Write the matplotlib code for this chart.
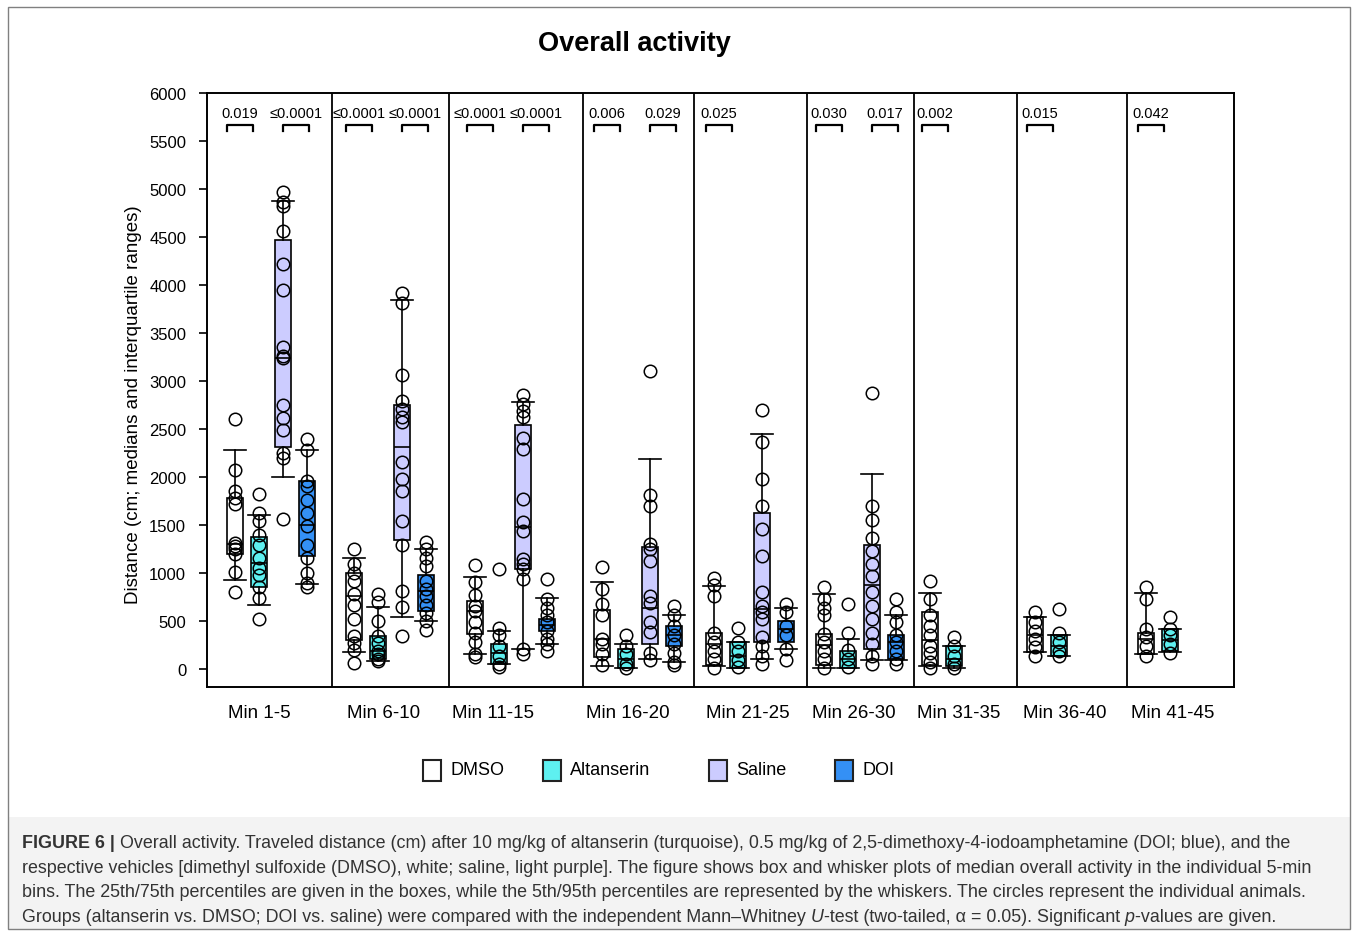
import matplotlib
matplotlib.use("Agg")
import numpy as np
import matplotlib.pyplot as plt
from matplotlib.patches import Rectangle
from matplotlib import font_manager

W, H = 1357, 937

def pick(*names):
    have = {f.name for f in font_manager.fontManager.ttflist}
    for n in names:
        if n in have:
            return n
    return "DejaVu Sans"

NARROW = pick("Liberation Sans Narrow", "Arial Narrow", "Liberation Sans")
SANS = pick("Liberation Sans", "Arial")
plt.rcParams['font.family'] = [SANS, 'DejaVu Sans']

# ---- data ----
bins = ["Min 1-5", "Min 6-10", "Min 11-15", "Min 16-20", "Min 21-25",
        "Min 26-30", "Min 31-35", "Min 36-40", "Min 41-45"]
groups = ["DMSO", "Altanserin", "Saline", "DOI"]
colors = ["white", "#5ef0f0", "#ccccff", "#3490f5"]

# (5th, 25th, median, 75th, 95th)
dmso_stats = [(930, 1200, 1300, 1780, 2280), (175, 300, 760, 1000, 1160),
              (155, 365, 600, 710, 960), (30, 120, 310, 610, 910),
              (30, 40, 260, 380, 860), (10, 40, 250, 360, 780),
              (35, 40, 300, 590, 790), (175, 175, 350, 540, 540),
              (160, 160, 310, 380, 790)]
alt_stats = [(670, 850, 1100, 1380, 1600), (85, 100, 190, 340, 650),
             (50, 50, 170, 260, 400), (15, 10, 100, 210, 260),
             (10, 10, 140, 280, 280), (10, 10, 100, 190, 310),
             (10, 35, 100, 240, 240), (140, 140, 240, 350, 350),
             (180, 190, 300, 420, 420)]
sal_stats = [(2000, 2310, 3240, 4470, 4870), (540, 1340, 2310, 2750, 3840),
             (210, 1040, 1480, 2540, 2780), (100, 260, 640, 1270, 2190),
             (100, 280, 620, 1630, 2450), (90, 210, 870, 1290, 2030),
             None, None, None]
doi_stats = [(890, 1180, 1500, 1960, 2280), (500, 600, 810, 980, 1250),
             (260, 400, 460, 520, 740), (70, 240, 350, 450, 560),
             (210, 280, 420, 500, 640), (90, 100, 280, 350, 560),
             None, None, None]

dmso_pts = [[2600, 2070, 1850, 1780, 1720, 1310, 1280, 1250, 1200, 1010, 800],
            [1250, 1090, 1000, 920, 780, 670, 520, 340, 270, 200, 60],
            [1080, 910, 770, 660, 600, 490, 370, 280, 160, 120],
            [1060, 830, 680, 560, 310, 260, 160, 40],
            [950, 870, 760, 370, 280, 190, 100, 10],
            [850, 730, 640, 560, 360, 280, 190, 100, 10],
            [920, 730, 560, 450, 350, 240, 170, 70, 10],
            [590, 490, 400, 310, 230, 140],
            [850, 730, 420, 330, 240, 140]]
alt_pts = [[1820, 1620, 1540, 1400, 1290, 1160, 1050, 980, 850, 740, 520],
           [780, 700, 500, 340, 270, 190, 160, 100, 80],
           [1040, 430, 350, 240, 140, 50, 20],
           [350, 240, 160, 50, 10],
           [430, 280, 190, 90, 20],
           [680, 370, 200, 100, 20],
           [330, 240, 140, 50, 10],
           [630, 370, 280, 190, 140],
           [540, 420, 350, 260, 170]]
sal_pts = [[4970, 4860, 4820, 4560, 4220, 3950, 3350, 3260, 3240, 2750, 2610, 2490, 2250, 2200, 1560],
           [3920, 3810, 3060, 2790, 2710, 2620, 2570, 2160, 1980, 1850, 1540, 1290, 810, 650, 340],
           [2850, 2760, 2690, 2620, 2410, 2290, 1770, 1530, 1440, 1150, 1090, 1040, 940, 210, 160],
           [3100, 1810, 1700, 1300, 1250, 1130, 760, 690, 490, 390, 170, 90],
           [2700, 2360, 1980, 1700, 1460, 1180, 800, 660, 590, 520, 330, 240, 140, 50],
           [2870, 1700, 1550, 1360, 1230, 1090, 970, 800, 660, 520, 370, 260, 140, 50],
           [], [], []]
doi_pts = [[2400, 2280, 1960, 1910, 1760, 1620, 1490, 1290, 1160, 1000, 900, 850],
           [1320, 1250, 1160, 1070, 920, 830, 760, 670, 580, 500, 410],
           [940, 730, 640, 560, 490, 400, 310, 260, 190],
           [660, 560, 450, 350, 260, 170, 70, 40],
           [680, 590, 450, 350, 210, 90],
           [730, 590, 490, 350, 280, 190, 100, 50],
           [], [], []]

p_alt_dmso = ["0.019", "≤0.0001", "≤0.0001", "0.006", "0.025", "0.030", "0.002", "0.015", "0.042"]
p_doi_sal = ["≤0.0001", "≤0.0001", "≤0.0001", "0.029", None, "0.017", None, None, None]

# ---- layout (pixels of the 1357x937 picture) ----
panel_edges = [207, 332, 449, 583, 694, 807, 914, 1017, 1127, 1234]
first_offset = [28, 22, 26, 19, 20, 17, 16, 18, 19]
label_shift = [-10, -7, -23, -11, -3, -7, -7, -7, -8]
spacing = 24

def fx(px):
    return px / W

def fy(py):
    return 1 - py / H

fig = plt.figure(figsize=(W / 100, H / 100), dpi=100)

# outer frame and caption panel
fig.patches.append(Rectangle((fx(8), fy(930)), fx(1350) - fx(8), fy(818) - fy(930),
                             transform=fig.transFigure, facecolor="#f3f3f3",
                             edgecolor="none", zorder=-2))
fig.patches.append(Rectangle((fx(8), fy(930)), fx(1350) - fx(8), fy(8) - fy(930),
                             transform=fig.transFigure, fill=False,
                             edgecolor="#808080", lw=1.0, zorder=-1))

ax = fig.add_axes([fx(207), fy(688), fx(1234) - fx(207), fy(94) - fy(688)])
ax.set_xlim(panel_edges[0], panel_edges[-1])
ax.set_ylim(-187.5, 6000)
for s in ax.spines.values():
    s.set_linewidth(1.4)
for e in panel_edges[1:-1]:
    ax.axvline(e, color="black", lw=1.3)

all_stats = [dmso_stats, alt_stats, sal_stats, doi_stats]
all_pts = [dmso_pts, alt_pts, sal_pts, doi_pts]

centers = []
for i in range(len(bins)):
    xs = [panel_edges[i] + first_offset[i] + g * spacing for g in range(4)]
    centers.append(xs)
    for g in range(4):
        st = all_stats[g][i]
        if st is None:
            continue
        lo, q1, med, q3, hi = st
        ax.bxp([dict(whislo=lo, q1=q1, med=med, q3=q3, whishi=hi, fliers=[])],
               positions=[xs[g]], widths=16, capwidths=22, patch_artist=True,
               showfliers=False, manage_ticks=False,
               boxprops=dict(facecolor=colors[g], edgecolor="black", lw=1.2),
               medianprops=dict(color="black", lw=1.2),
               whiskerprops=dict(color="black", lw=1.2),
               capprops=dict(color="black", lw=1.2))
        pts = all_pts[g][i]
        ax.plot(np.full(len(pts), xs[g]), pts, "o", mfc="none", mec="black",
                ms=9, mew=1.1, zorder=4)

# p-value brackets
def bracket(x0, x1, label):
    ax.plot([x0, x0, x1, x1], [5600, 5665, 5665, 5600], color="black", lw=1.6,
            clip_on=False)
    ax.text((x0 + x1) / 2, 5790, label, ha="center", va="center", fontsize=10.5)

for i in range(len(bins)):
    xs = centers[i]
    if p_alt_dmso[i]:
        m = (xs[0] + xs[1]) / 2 - 7
        bracket(m - 13, m + 13, p_alt_dmso[i])
    if p_doi_sal[i]:
        m = (xs[2] + xs[3]) / 2 + 1
        bracket(m - 13, m + 13, p_doi_sal[i])

ax.set_yticks(np.arange(0, 6001, 500))
ax.tick_params(axis="y", length=6, width=1.2, pad=9, labelsize=12)
label_x = [(panel_edges[i] + panel_edges[i + 1]) / 2 + label_shift[i] for i in range(len(bins))]
ax.set_xticks(label_x)
ax.set_xticklabels(bins)
ax.tick_params(axis="x", length=0, pad=12, labelsize=13.5)

fig.text(fx(133), fy(405), "Distance (cm; medians and interquartile ranges)",
         rotation=90, ha="center", va="center", fontsize=13.5)
fig.text(fx(634), fy(44), "Overall activity", ha="center", va="center",
         fontsize=19.5, family=[NARROW, SANS], weight="bold")

# legend
legend_box_x = [423, 543, 709, 835]
for g in range(4):
    x0 = legend_box_x[g]
    fig.patches.append(Rectangle((fx(x0), fy(782)), 18 / W, 21 / H,
                                 transform=fig.transFigure, facecolor=colors[g],
                                 edgecolor="#222222", lw=1.5))
    fig.text(fx(x0 + 27), fy(771), groups[g], ha="left", va="center", fontsize=13)

# caption
fig.canvas.draw()
renderer = fig.canvas.get_renderer()

def run_text(segments, x_px, y_px, size):
    x = x_px
    for txt, style, weight in segments:
        t = fig.text(fx(x), fy(y_px), txt, ha="left", va="center", fontsize=size,
                     style=style, weight=weight, family=[NARROW, SANS, 'DejaVu Sans'],
                     color="#333333")
        bb = t.get_window_extent(renderer)
        x += bb.width

line2 = ("respective vehicles [dimethyl sulfoxide (DMSO), white; saline, light purple]. "
         "The figure shows box and whisker plots of median overall activity in the individual 5-min")
probe = fig.text(0, 0, line2, fontsize=10, family=[NARROW, SANS, 'DejaVu Sans'])
cap_size = 10 * 1286 / probe.get_window_extent(renderer).width
probe.remove()

cap_lines = [
    [("FIGURE 6 | ", "normal", "bold"),
     ("Overall activity. Traveled distance (cm) after 10 mg/kg of altanserin (turquoise), "
      "0.5 mg/kg of 2,5-dimethoxy-4-iodoamphetamine (DOI; blue), and the", "normal", "normal")],
    [(line2, "normal", "normal")],
    [("bins. The 25th/75th percentiles are given in the boxes, while the 5th/95th percentiles "
      "are represented by the whiskers. The circles represent the individual animals.", "normal", "normal")],
    [("Groups (altanserin vs. DMSO; DOI vs. saline) were compared with the independent Mann–Whitney ",
      "normal", "normal"),
     ("U", "italic", "normal"),
     ("-test (two-tailed, α = 0.05). Significant ", "normal", "normal"),
     ("p", "italic", "normal"),
     ("-values are given.", "normal", "normal")],
]
cap_y = [844, 869, 893, 918]
for segs, yy in zip(cap_lines, cap_y):
    run_text(segs, 22, yy, cap_size)

fig.savefig("out.png", dpi=100)
